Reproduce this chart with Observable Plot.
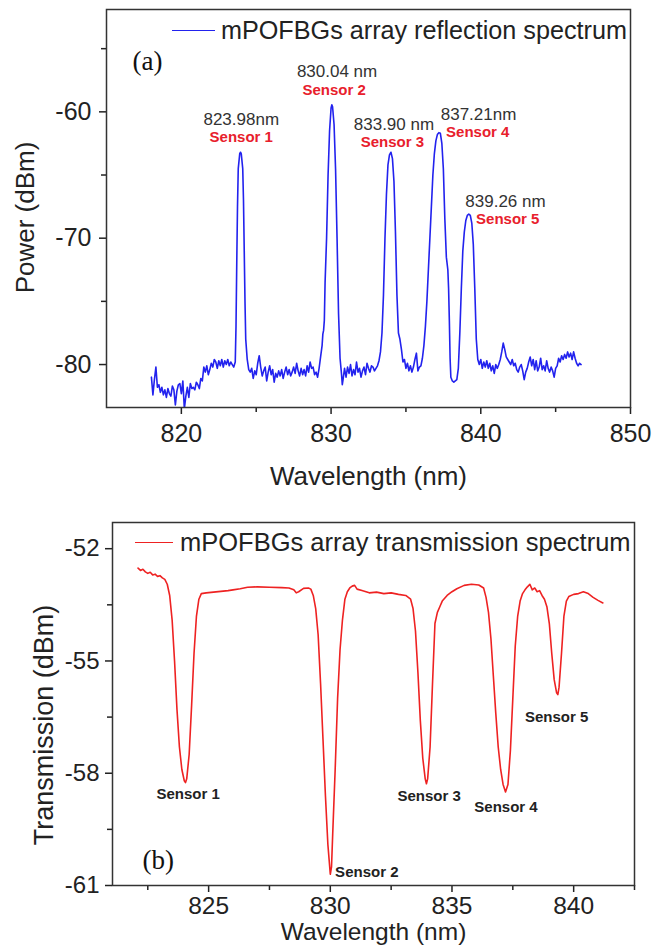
<!DOCTYPE html>
<html><head><meta charset="utf-8">
<script src="https://cdn.jsdelivr.net/npm/d3@7"></script>
<script src="https://cdn.jsdelivr.net/npm/@observablehq/plot@0.6"></script>
<style>
body{margin:0;background:#fff;font-family:"Liberation Sans",Arial,sans-serif;}
#wrap{position:relative;width:654px;height:945px;overflow:hidden;}
#wrap svg{display:block;}
.legend{position:absolute;display:flex;align-items:center;font-size:25px;line-height:28px;color:#222;white-space:nowrap;}
.legend .sw{display:inline-block;height:0;border-top:1.6px solid;}
</style></head><body><div id="wrap"></div>
<script>
// ---- (a) reflection spectrum ----
const reflWl = [818.0,818.1,818.2,818.3,818.4,818.5,818.6,818.7,818.8,818.9,
819.0,819.1,819.2,819.3,819.4,819.5,819.6,819.7,819.8,819.9,
820.0,820.1,820.2,820.3,820.4,820.5,820.6,820.7,820.8,820.9,
821.0,821.1,821.2,821.3,821.4,821.5,821.6,821.7,821.8,821.9,
822.0,822.1,822.2,822.3,822.4,822.5,822.6,822.7,822.8,822.9,
823.0,823.1,823.2,823.3,823.4,823.5,823.6,823.65,823.7,823.75,823.8,823.9,823.95,824.0,824.1,824.15,824.2,824.25,824.3,824.4,
824.5,824.6,824.7,824.8,824.9,825.0,825.1,825.2,825.3,825.4,825.5,825.6,825.7,825.8,825.9,
826.0,826.1,826.2,826.3,826.4,826.5,826.6,826.7,826.8,826.9,
827.0,827.1,827.2,827.3,827.4,827.5,827.6,827.7,827.8,827.9,
828.0,828.1,828.2,828.3,828.4,828.5,828.6,828.7,828.8,828.9,
829.0,829.1,829.2,829.3,829.4,829.45,829.5,829.55,829.6,829.7,829.8,829.9,830.0,830.05,830.1,830.2,830.3,830.4,830.5,830.6,830.7,830.75,830.8,830.9,
831.0,831.1,831.2,831.3,831.4,831.5,831.6,831.7,831.8,831.9,
832.0,832.1,832.2,832.3,832.4,832.5,832.6,832.7,832.8,832.9,
833.0,833.1,833.2,833.3,833.4,833.5,833.6,833.7,833.8,833.9,
834.0,834.1,834.2,834.3,834.4,834.5,834.6,834.7,834.8,834.9,
835.0,835.1,835.2,835.3,835.4,835.5,835.6,835.7,835.8,835.9,
836.0,836.1,836.2,836.3,836.4,836.5,836.6,836.7,836.8,836.9,
837.0,837.1,837.2,837.3,837.4,837.5,837.6,837.7,837.8,837.85,837.9,837.95,
838.0,838.1,838.2,838.3,838.4,838.5,838.6,838.7,838.8,838.9,
839.0,839.1,839.2,839.3,839.4,839.5,839.6,839.7,839.8,839.9,
840.0,840.1,840.2,840.3,840.4,840.5,840.6,840.7,840.8,840.9,
841.0,841.1,841.2,841.3,841.4,841.5,841.6,841.7,841.8,841.9,
842.0,842.1,842.2,842.3,842.4,842.5,842.6,842.7,842.8,842.9,
843.0,843.1,843.2,843.3,843.4,843.5,843.6,843.7,843.8,843.9,
844.0,844.1,844.2,844.3,844.4,844.5,844.6,844.7,844.8,844.9,
845.0,845.1,845.2,845.3,845.4,845.5,845.6,845.7,845.8,845.9,
846.0,846.1,846.2,846.3,846.4,846.5,846.6,846.7];
const reflPow = [-81.0,-82.4,-81.2,-80.2,-81.8,-81.6,-82.2,-81.8,-82.4,-82.0,
-82.6,-81.9,-82.3,-82.5,-81.7,-82.0,-83.2,-82.1,-81.6,-81.5,
-82.3,-81.3,-83.5,-82.5,-81.8,-82.6,-81.5,-81.9,-81.8,-82.0,
-81.4,-81.6,-81.9,-81.1,-81.3,-80.2,-80.6,-80.1,-80.8,-80.4,
-79.9,-80.2,-79.6,-79.8,-80.3,-79.7,-80.1,-79.6,-80.2,-79.7,
-80.0,-79.6,-80.1,-79.8,-80.0,-80.2,-79.8,-77.0,-72.0,-67.5,-64.5,-63.3,-63.2,-63.3,-64.5,-67.0,-71.0,-75.0,-78.0,-79.6,
-80.4,-80.6,-80.3,-81.1,-80.5,-80.8,-79.9,-79.3,-80.2,-80.9,-80.5,-80.2,-81.3,-80.6,-80.1,
-80.8,-80.4,-81.4,-80.7,-81.0,-80.5,-80.9,-80.4,-81.1,-80.6,
-80.2,-80.8,-80.4,-80.9,-80.6,-80.2,-80.7,-79.9,-80.5,-80.9,
-80.3,-80.8,-80.4,-80.9,-80.1,-80.6,-79.8,-80.3,-80.2,-80.8,
-80.6,-81.0,-80.3,-79.4,-78.5,-77.6,-77.3,-76.5,-73.5,-70.0,-65.0,-61.5,-59.7,-59.45,-59.6,-61.0,-64.5,-70.0,-76.0,-79.5,-80.8,-81.6,-81.2,-80.3,
-81.0,-80.2,-80.7,-80.0,-80.9,-80.4,-80.8,-79.8,-80.6,-80.3,
-81.0,-80.5,-80.2,-80.8,-79.9,-80.3,-80.6,-80.1,-80.2,-80.5,
-80.3,-80.1,-79.7,-79.0,-77.5,-74.5,-70.0,-66.5,-64.2,-63.4,
-63.2,-63.7,-65.5,-69.5,-74.5,-77.5,-78.0,-78.8,-79.8,-79.6,
-80.3,-79.9,-80.5,-80.1,-80.6,-80.2,-79.6,-79.1,-80.5,-80.2,
-80.1,-79.5,-78.5,-77.0,-75.0,-72.5,-70.0,-67.5,-65.0,-63.3,
-62.3,-61.8,-61.65,-61.7,-62.5,-64.5,-68.5,-71.5,-72.5,-74.0,-76.5,-79.5,
-81.0,-81.3,-81.4,-81.3,-81.2,-80.3,-77.5,-74.0,-71.0,-69.5,
-68.6,-68.2,-68.1,-68.2,-68.8,-70.5,-74.0,-78.0,-79.6,-80.0,
-79.6,-80.3,-79.8,-80.2,-79.7,-80.3,-79.9,-80.5,-80.1,-80.7,
-80.0,-80.3,-80.0,-79.6,-79.0,-78.3,-78.8,-79.4,-79.6,-79.8,
-80.0,-79.6,-80.1,-79.9,-80.4,-80.6,-80.2,-80.0,-80.5,-81.2,
-80.6,-80.3,-79.8,-79.4,-80.1,-79.6,-80.4,-79.7,-80.5,-80.2,
-79.5,-80.4,-80.1,-80.5,-79.7,-80.3,-80.6,-80.2,-80.5,-81.0,
-80.3,-80.1,-79.5,-79.8,-79.3,-79.6,-79.2,-79.5,-79.0,-79.4,
-79.1,-79.6,-79.0,-79.5,-79.9,-80.1,-79.9,-80.0];

const reflXTicks = [820, 830, 840, 850];
const reflXMinor = [825, 835, 845];
const reflYTicks = [-60, -70, -80];
const reflYMinor = [-55, -65, -75];

const sensorNames = ["Sensor 1", "Sensor 2", "Sensor 3", "Sensor 4", "Sensor 5"];
const reflPeakText = ["823.98nm", "830.04 nm", "833.90 nm", "837.21nm", "839.26 nm"];
const reflPeakTextX = [824.0, 830.4, 834.2, 839.85, 841.65];
const reflPeakTextY = [-60.6, -56.8, -61.0, -60.2, -67.1];
const reflSensorX = [824.0, 830.2, 834.1, 839.8, 841.8];
const reflSensorY = [-62.0, -58.3, -62.4, -61.6, -68.5];

// ---- (b) transmission spectrum ----
const transWl = [822.1,822.2,822.3,822.4,822.5,822.6,822.7,822.8,822.9,823.0,823.1,823.2,823.3,823.4,823.5,823.6,823.7,823.8,823.9,824.0,824.05,824.1,824.2,824.3,824.4,824.5,824.6,824.7,824.9,
825.2,825.5,825.8,826.0,826.3,826.6,827.0,827.5,828.0,828.3,828.5,828.6,828.7,828.9,829.1,829.2,829.3,829.4,829.5,829.6,829.7,829.8,829.9,830.0,830.05,830.1,830.2,830.3,830.4,830.5,830.6,830.7,830.8,830.9,
831.0,831.1,831.3,831.6,831.9,832.2,832.5,832.8,833.1,833.3,833.4,833.5,833.6,833.7,833.8,833.9,833.95,834.0,834.1,834.2,834.3,834.4,834.5,834.6,834.8,
835.0,835.2,835.5,835.8,836.1,836.3,836.4,836.5,836.6,836.7,836.8,836.9,837.0,837.1,837.2,837.3,837.4,837.5,837.6,837.7,837.8,837.9,
838.0,838.1,838.2,838.3,838.4,838.5,838.6,838.7,838.8,838.9,839.0,839.1,839.2,839.3,839.35,839.4,839.5,839.6,839.7,839.8,
840.0,840.2,840.4,840.6,840.8,841.0,841.2];
const transPow = [-52.52,-52.58,-52.55,-52.62,-52.66,-52.63,-52.70,-52.68,-52.74,-52.72,-52.78,-52.82,-52.95,-53.25,-53.9,-55.0,-56.3,-57.3,-57.9,-58.2,-58.25,-58.15,-57.5,-56.2,-54.8,-53.8,-53.35,-53.2,-53.18,
-53.16,-53.14,-53.12,-53.1,-53.07,-53.03,-53.02,-53.03,-53.04,-53.05,-53.1,-53.18,-53.15,-53.06,-53.05,-53.08,-53.25,-53.6,-54.3,-55.6,-57.1,-58.6,-59.9,-60.7,-60.5,-59.6,-57.9,-56.0,-54.7,-53.9,-53.35,-53.15,-53.05,-53.0,
-52.98,-53.08,-53.12,-53.18,-53.16,-53.2,-53.18,-53.22,-53.25,-53.35,-53.6,-54.2,-55.3,-56.6,-57.6,-58.15,-58.28,-58.15,-57.3,-55.6,-54.0,-53.7,-53.55,-53.4,-53.25,
-53.15,-53.07,-52.98,-52.95,-52.97,-53.05,-53.3,-53.7,-54.4,-55.4,-56.4,-57.3,-57.9,-58.3,-58.5,-58.3,-57.4,-56.0,-54.6,-53.8,-53.4,-53.2,
-53.1,-53.02,-52.95,-53.1,-53.05,-53.15,-53.12,-53.25,-53.35,-53.55,-54.0,-54.8,-55.5,-55.85,-55.9,-55.7,-54.8,-53.8,-53.4,-53.28,
-53.22,-53.2,-53.15,-53.2,-53.3,-53.38,-53.45];

const transXTicks = [825, 830, 835, 840];
const transXMinor = [822.5, 827.5, 832.5, 837.5, 842.5];
const transYTicks = [-52, -55, -58, -61];
const transYMinor = [-53.5, -56.5, -59.5];
const transSensorX = [824.16, 831.5, 834.06, 837.22, 839.3];
const transSensorY = [-58.56, -60.64, -58.61, -58.9, -56.5];

const FONT = "Liberation Sans, Arial, Helvetica, sans-serif";
const wrap = document.getElementById("wrap");
const fmt = d => String(d);

const refl = reflWl.map((x, i) => ({x, y: reflPow[i]}));
const trans = transWl.map((x, i) => ({x, y: transPow[i]}));

const chartA = Plot.plot({
  width: 654, height: 492,
  marginTop: 9, marginBottom: 85, marginLeft: 106, marginRight: 24,
  style: {fontFamily: FONT, background: "white", color: "#222", overflow: "visible"},
  x: {domain: [815, 850]},
  y: {domain: [-83.4, -51.9]},
  marks: [
    Plot.axisX({ticks: reflXTicks, tickSize: 7, tickPadding: 10, tickFormat: fmt, fontSize: 25, label: null, strokeWidth: 1.5}),
    Plot.axisX({ticks: reflXMinor, tickSize: 5, tickFormat: () => "", label: null, strokeWidth: 1.5}),
    Plot.axisY({ticks: reflYTicks, tickSize: 7, tickPadding: 8, tickFormat: fmt, fontSize: 25, label: null, strokeWidth: 1.5}),
    Plot.axisY({ticks: reflYMinor, tickSize: 5, tickFormat: () => "", label: null, strokeWidth: 1.5}),
    Plot.line(refl, {x: "x", y: "y", stroke: "#2222ee", strokeWidth: 1.6, clip: true}),
    Plot.frame({stroke: "#333", strokeWidth: 1.5}),
    Plot.text(reflPeakText, {x: (d, i) => reflPeakTextX[i], y: (d, i) => reflPeakTextY[i], text: d => d, fontSize: 17, fill: "#333"}),
    Plot.text(sensorNames, {x: (d, i) => reflSensorX[i], y: (d, i) => reflSensorY[i], text: d => d, fontSize: 15, fontWeight: "bold", fill: "#e8202c"}),
    Plot.text(["(a)"], {frameAnchor: "top-left", dx: 26, dy: 52, textAnchor: "start", lineAnchor: "middle", fontFamily: "Liberation Serif, Times New Roman, serif", fontSize: 27, fill: "#111"}),
    Plot.text(["Power (dBm)"], {frameAnchor: "left", rotate: -90, dx: -81, dy: 9, textAnchor: "middle", lineAnchor: "middle", fontSize: 26, fill: "#222"}),
    Plot.text(["Wavelength (nm)"], {frameAnchor: "bottom", dy: 69, textAnchor: "middle", lineAnchor: "middle", fontSize: 26, fill: "#222"})
  ]
});

const chartB = Plot.plot({
  width: 654, height: 453,
  marginTop: 30, marginBottom: 60, marginLeft: 112, marginRight: 20,
  style: {fontFamily: FONT, background: "white", color: "#222", overflow: "visible"},
  x: {domain: [821.05, 842.5]},
  y: {domain: [-61, -51.3]},
  marks: [
    Plot.axisX({ticks: transXTicks, tickSize: 7, tickPadding: 4, tickFormat: fmt, fontSize: 24.5, label: null, strokeWidth: 1.5}),
    Plot.axisX({ticks: transXMinor, tickSize: 5, tickFormat: () => "", label: null, strokeWidth: 1.5}),
    Plot.axisY({ticks: transYTicks, tickSize: 7, tickPadding: 6, tickFormat: fmt, fontSize: 24, label: null, strokeWidth: 1.5}),
    Plot.axisY({ticks: transYMinor, tickSize: 5, tickFormat: () => "", label: null, strokeWidth: 1.5}),
    Plot.line(trans, {x: "x", y: "y", stroke: "#ee2222", strokeWidth: 1.6}),
    Plot.frame({stroke: "#333", strokeWidth: 1.5}),
    Plot.text(sensorNames, {x: (d, i) => transSensorX[i], y: (d, i) => transSensorY[i], text: d => d, fontSize: 15, fontWeight: "bold", fill: "#222"}),
    Plot.text(["(b)"], {frameAnchor: "bottom-left", dx: 30, dy: -25, textAnchor: "start", lineAnchor: "middle", fontFamily: "Liberation Serif, Times New Roman, serif", fontSize: 27, fill: "#111"}),
    Plot.text(["Transmission (dBm)"], {frameAnchor: "left", rotate: -90, dx: -68, dy: 21, textAnchor: "middle", lineAnchor: "middle", fontSize: 27, fill: "#222"}),
    Plot.text(["Wavelength (nm)"], {frameAnchor: "bottom", dy: 46.5, textAnchor: "middle", lineAnchor: "middle", fontSize: 24.5, fill: "#222"})
  ]
});

wrap.appendChild(chartA);
wrap.appendChild(chartB);

function addLegend(left, top, swatchW, gap, color, label, size) {
  const d = document.createElement("div");
  d.className = "legend";
  d.style.left = left + "px";
  d.style.top = top + "px";
  d.style.fontSize = size + "px";
  const s = document.createElement("span");
  s.className = "sw";
  s.style.width = swatchW + "px";
  s.style.borderTopColor = color;
  s.style.marginRight = gap + "px";
  const t = document.createElement("span");
  t.textContent = label;
  d.appendChild(s); d.appendChild(t);
  wrap.appendChild(d);
}
addLegend(172, 16, 43, 6, "#2222ee", "mPOFBGs array reflection spectrum", 25.2);
addLegend(135, 528, 38, 7, "#ee2222", "mPOFBGs array transmission spectrum", 25.5);
</script></body></html>
